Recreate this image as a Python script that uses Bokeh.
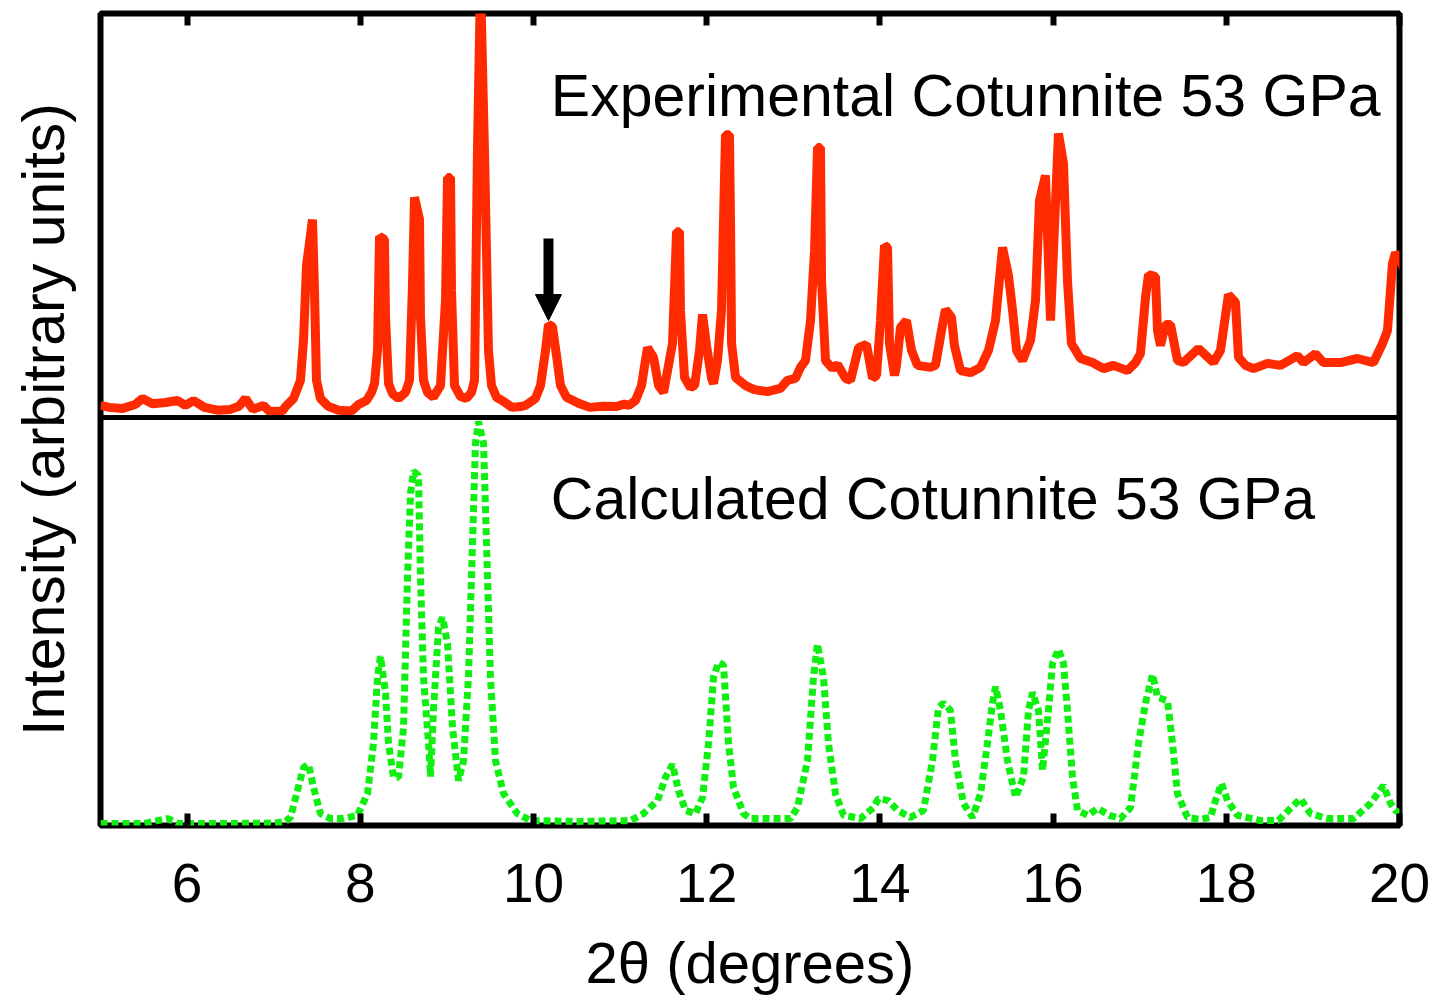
from bokeh.plotting import figure
from bokeh.models import (Range1d, LinearAxis, FixedTicker, Span, Label, Arrow, NormalHead,
                          CustomLabelingPolicy)
from bokeh.embed import file_html
from bokeh.resources import INLINE

# ---------------- data ----------------
x_ticks = [6, 8, 10, 12, 14, 16, 18, 20]

# Experimental pattern (top panel, arbitrary units, 100 = top of panel)
exp_x = [5.000, 5.10, 5.25, 5.40, 5.485, 5.60, 5.75, 5.889, 5.98, 6.074, 6.20, 6.35, 6.50, 6.60,
         6.674, 6.76, 6.882, 6.95, 7.10,
         7.136, 7.229, 7.309, 7.344, 7.379, 7.448, 7.471, 7.494, 7.540, 7.633,
         7.75, 7.90, 7.979, 8.072, 8.129, 8.164, 8.199, 8.222, 8.279, 8.291, 8.326, 8.372, 8.441,
         8.522, 8.568, 8.603, 8.626, 8.684, 8.695, 8.730, 8.776, 8.845,
         8.926, 8.984, 9.007, 9.042, 9.053, 9.088, 9.157, 9.226,
         9.284, 9.319, 9.353, 9.388, 9.434, 9.480, 9.515, 9.573, 9.654,
         9.75, 9.85, 9.908,
         10.023, 10.081, 10.139, 10.173, 10.219, 10.266, 10.312, 10.381, 10.520,
         10.65, 10.80, 10.95, 11.05, 11.10,
         11.178, 11.247, 11.316, 11.386, 11.444, 11.502,
         11.605, 11.652, 11.686, 11.697, 11.744, 11.813,
         11.860, 11.917, 11.952, 11.998, 12.056,
         12.079, 12.125, 12.171, 12.217, 12.263, 12.275, 12.287, 12.333, 12.448,
         12.55, 12.70, 12.85, 12.933, 13.025, 13.083, 13.141,
         13.199, 13.245, 13.280, 13.314, 13.326, 13.372, 13.453, 13.511, 13.603,
         13.661, 13.753, 13.845, 13.915,
         13.961, 14.007, 14.053, 14.088, 14.111, 14.169,
         14.192, 14.238, 14.307, 14.365, 14.434, 14.584,
         14.642, 14.711, 14.757, 14.827, 14.861, 14.931, 15.046,
         15.162, 15.254, 15.335, 15.416, 15.485, 15.532, 15.578, 15.647,
         15.739, 15.797, 15.843, 15.912, 15.970, 16.062, 16.120, 16.166, 16.212, 16.316,
         16.455, 16.582, 16.697, 16.859, 16.952, 17.009,
         17.067, 17.102, 17.182, 17.206, 17.240, 17.298, 17.356, 17.437, 17.506,
         17.679, 17.852, 17.933, 18.025, 18.106, 18.141, 18.222, 18.314, 18.476, 18.626,
         18.822, 18.891, 19.030, 19.122, 19.319, 19.515, 19.700, 19.804, 19.861, 19.919,
         19.954, 20.046]
exp_y = [3.0, 2.5, 2.2, 3.2, 4.7, 3.4, 3.7, 4.2, 3.0, 4.2, 2.5, 1.8, 2.0, 2.8,
         4.7, 2.0, 3.0, 1.5, 1.6,
         2.7, 4.7, 9.2, 19.1, 37.6, 49.0, 31.4, 9.2, 4.7, 2.7,
         1.8, 1.6, 3.2, 4.2, 6.2, 8.4, 16.6, 44.8, 44.1, 24.8, 8.4, 5.9, 4.7,
         6.2, 9.2, 33.2, 54.5, 49.0, 24.8, 9.2, 6.2, 5.0,
         7.9, 29.0, 59.4, 59.4, 31.4, 7.9, 5.2, 4.7,
         6.2, 9.2, 66.1, 108.0, 66.1, 16.6, 7.9, 5.0, 4.0,
         2.5, 2.7, 3.0,
         4.7, 7.9, 16.6, 23.0, 22.5, 15.3, 7.9, 5.0, 3.5,
         2.5, 2.8, 2.7, 3.3, 3.0,
         4.2, 7.9, 17.3, 14.9, 7.9, 6.2,
         18.3, 46.0, 46.0, 26.5, 9.9, 7.4,
         7.9, 16.6, 25.5, 17.8, 9.7,
         8.4, 14.1, 26.5, 70.0, 70.0, 48.8, 18.3, 9.9, 7.9,
         6.9, 6.4, 7.2, 9.2, 9.7, 12.4, 14.1,
         24.0, 41.3, 66.8, 66.8, 33.9, 14.1, 12.1, 13.1, 9.7,
         9.2, 17.3, 18.1, 9.7,
         10.4, 24.0, 42.6, 42.1, 18.3, 10.4,
         12.9, 22.3, 24.0, 16.6, 12.9, 12.4,
         12.9, 21.5, 26.7, 24.8, 17.8, 11.6, 11.1,
         12.4, 16.6, 24.0, 42.1, 35.1, 26.5, 16.6, 14.1,
         19.1, 29.0, 53.7, 59.9, 24.0, 70.3, 62.9, 33.9, 18.3, 14.6,
         13.6, 12.1, 12.9, 11.6, 13.6, 15.8,
         29.7, 35.4, 34.9, 21.5, 17.8, 23.0, 23.0, 14.1, 13.6,
         17.1, 13.6, 16.6, 30.4, 28.5, 14.9, 12.9, 12.1, 13.4, 12.9,
         15.3, 13.6, 15.8, 13.6, 13.6, 14.6, 13.6, 18.3, 21.5, 38.1,
         40.8, 37.1]

# Calculated pattern (bottom panel, arbitrary units, 100 = top of panel)
calc_x = [5.0, 5.5, 5.774, 5.9, 6.5, 7.0, 7.136, 7.194, 7.275, 7.344, 7.402, 7.46, 7.54, 7.656,
          7.806, 7.968, 8.083, 8.152, 8.199, 8.233, 8.291, 8.326, 8.383, 8.441, 8.499, 8.545,
          8.58, 8.614, 8.672, 8.695, 8.73, 8.788, 8.811, 8.845, 8.903, 8.949, 9.007, 9.065,
          9.134, 9.192, 9.249, 9.296, 9.33, 9.365, 9.423, 9.469, 9.503, 9.561, 9.654, 9.815,
          9.965, 10.5, 11.12, 11.27, 11.432, 11.524, 11.605, 11.674, 11.755, 11.871, 11.952,
          12.021, 12.079, 12.137, 12.194, 12.252, 12.31, 12.425, 12.506, 12.968, 13.048, 13.164,
          13.233, 13.279, 13.349, 13.406, 13.487, 13.58, 13.776, 13.926, 13.984, 14.099, 14.203,
          14.353, 14.503, 14.607, 14.677, 14.734, 14.815, 14.873, 14.965, 15.069, 15.162, 15.242,
          15.30, 15.335, 15.393, 15.473, 15.566, 15.658, 15.716, 15.762, 15.831, 15.878, 15.947,
          15.993, 16.062, 16.12, 16.166, 16.224, 16.282, 16.4, 16.513, 16.65, 16.778, 16.894,
          16.986, 17.067, 17.148, 17.206, 17.321, 17.379, 17.436, 17.552, 17.7, 17.818, 17.875,
          17.945, 18.014, 18.129, 18.395, 18.6, 18.718, 18.857, 18.972, 19.169, 19.469, 19.665,
          19.815, 19.896, 19.954, 20.0]
calc_y = [0.5, 0.5, 1.7, 0.5, 0.5, 0.6, 1.0, 2.0, 8.6, 14.2, 15.0, 9.3, 2.9, 1.7,
          1.7, 2.5, 7.8, 20.1, 36.3, 41.5, 32.4, 20.1, 11.8, 11.8, 24.0, 60.8,
          81.4, 86.8, 85.8, 60.8, 36.3, 20.1, 12.0, 28.2, 48.5, 51.0, 44.6, 24.0,
          11.0, 15.9, 36.3, 69.1, 93.6, 99.0, 93.6, 60.8, 36.3, 15.9, 7.8, 2.9,
          1.2, 1.0, 1.2, 2.9, 6.1, 11.8, 15.0, 8.6, 3.7, 2.9, 6.9,
          20.1, 36.3, 40.0, 39.3, 20.1, 9.3, 2.9, 1.7, 1.7, 4.4, 15.9,
          36.3, 44.5, 36.3, 20.1, 7.8, 2.5, 1.7, 4.4, 6.6, 6.1, 3.7,
          2.0, 3.7, 15.9, 28.9, 30.0, 28.2, 15.9, 5.4, 2.0, 7.8, 20.1,
          30.0, 34.0, 28.2, 15.9, 6.9, 11.8, 28.2, 32.6, 28.2, 13.5, 28.2,
          39.7, 43.2, 39.7, 28.2, 11.8, 3.7, 2.5, 4.2, 2.5, 1.7, 4.4,
          20.1, 30.0, 37.0, 31.4, 30.6, 20.1, 7.8, 2.0, 1.5, 2.0, 6.1,
          10.3, 6.1, 2.5, 1.2, 1.2, 3.7, 6.6, 2.9, 1.7, 1.7, 5.4,
          9.8, 5.4, 3.7, 3.0]

arrow_x = 10.173
arrow_top = 44.3
arrow_tip = 24.0

FONT = "Liberation Sans"

W, H = 1440, 1000

# ---------------- figure ----------------
p = figure(width=W, height=H, output_backend="svg", toolbar_location=None,
           x_range=Range1d(5, 20), y_range=Range1d(0, 199.0),
           x_axis_location=None, y_axis_location=None,
           min_border_left=100, min_border_right=W - 1399, min_border_top=13,
           min_border_bottom=H - 825)
p.extra_y_ranges = {"exp": Range1d(-101.0, 100.0)}
p.grid.visible = False
p.outline_line_color = "black"
p.outline_line_width = 6
p.background_fill_color = "white"
p.border_fill_color = "white"

def style_x(ax):
    ax.axis_line_color = None
    ax.major_tick_in = 12
    ax.major_tick_out = 0
    ax.major_tick_line_width = 6
    ax.major_tick_line_color = "black"
    ax.minor_tick_line_color = None

xb = LinearAxis(ticker=FixedTicker(ticks=x_ticks), axis_label="2θ (degrees)")
style_x(xb)
xb.major_label_text_font = FONT
xb.major_label_text_font_size = "55px"
xb.major_label_text_color = "black"
xb.major_label_standoff = 38
xb.axis_label_text_font = FONT
xb.axis_label_text_font_size = "58px"
xb.axis_label_text_font_style = "normal"
xb.axis_label_text_color = "black"
xb.axis_label_standoff = 25
p.add_layout(xb, "below")

# top edge: tick marks only, no labels
xt = LinearAxis(ticker=FixedTicker(ticks=x_ticks),
                major_label_policy=CustomLabelingPolicy(code="return []"))
style_x(xt)
xt.major_label_text_font_size = "1px"
xt.major_label_text_alpha = 0
xt.major_label_standoff = 0
p.add_layout(xt, "above")

yl = LinearAxis(ticker=FixedTicker(ticks=[]), axis_label="Intensity (arbitrary units)")
yl.axis_line_color = None
yl.major_tick_out = 0
yl.major_tick_in = 0
yl.minor_tick_line_color = None
yl.major_label_standoff = 0
yl.axis_label_text_font = FONT
yl.axis_label_text_font_size = "59px"
yl.axis_label_text_font_style = "normal"
yl.axis_label_text_color = "black"
yl.axis_label_standoff = 24
p.add_layout(yl, "left")

p.line(calc_x, calc_y, line_color="#11ee11", line_width=7, line_dash="7 4")
p.line(exp_x, exp_y, y_range_name="exp", line_color="#ff2a00", line_width=9)

p.add_layout(Span(location=100, dimension="width", line_color="black", line_width=5))

p.add_layout(Arrow(end=NormalHead(size=26, fill_color="black", line_color="black", line_width=1),
                   x_start=arrow_x, y_start=arrow_top, x_end=arrow_x, y_end=arrow_tip,
                   y_range_name="exp", line_color="black", line_width=10))

p.add_layout(Label(x=10.20, y=79.5, y_range_name="exp", text="Experimental Cotunnite 53 GPa",
                   text_font=FONT, text_font_size="59px", text_color="black",
                   text_baseline="alphabetic"))
p.add_layout(Label(x=10.20, y=80.1, text="Calculated Cotunnite 53 GPa",
                   text_font=FONT, text_font_size="59px", text_color="black",
                   text_baseline="alphabetic"))

open("out.html", "w").write(file_html(p, INLINE))
